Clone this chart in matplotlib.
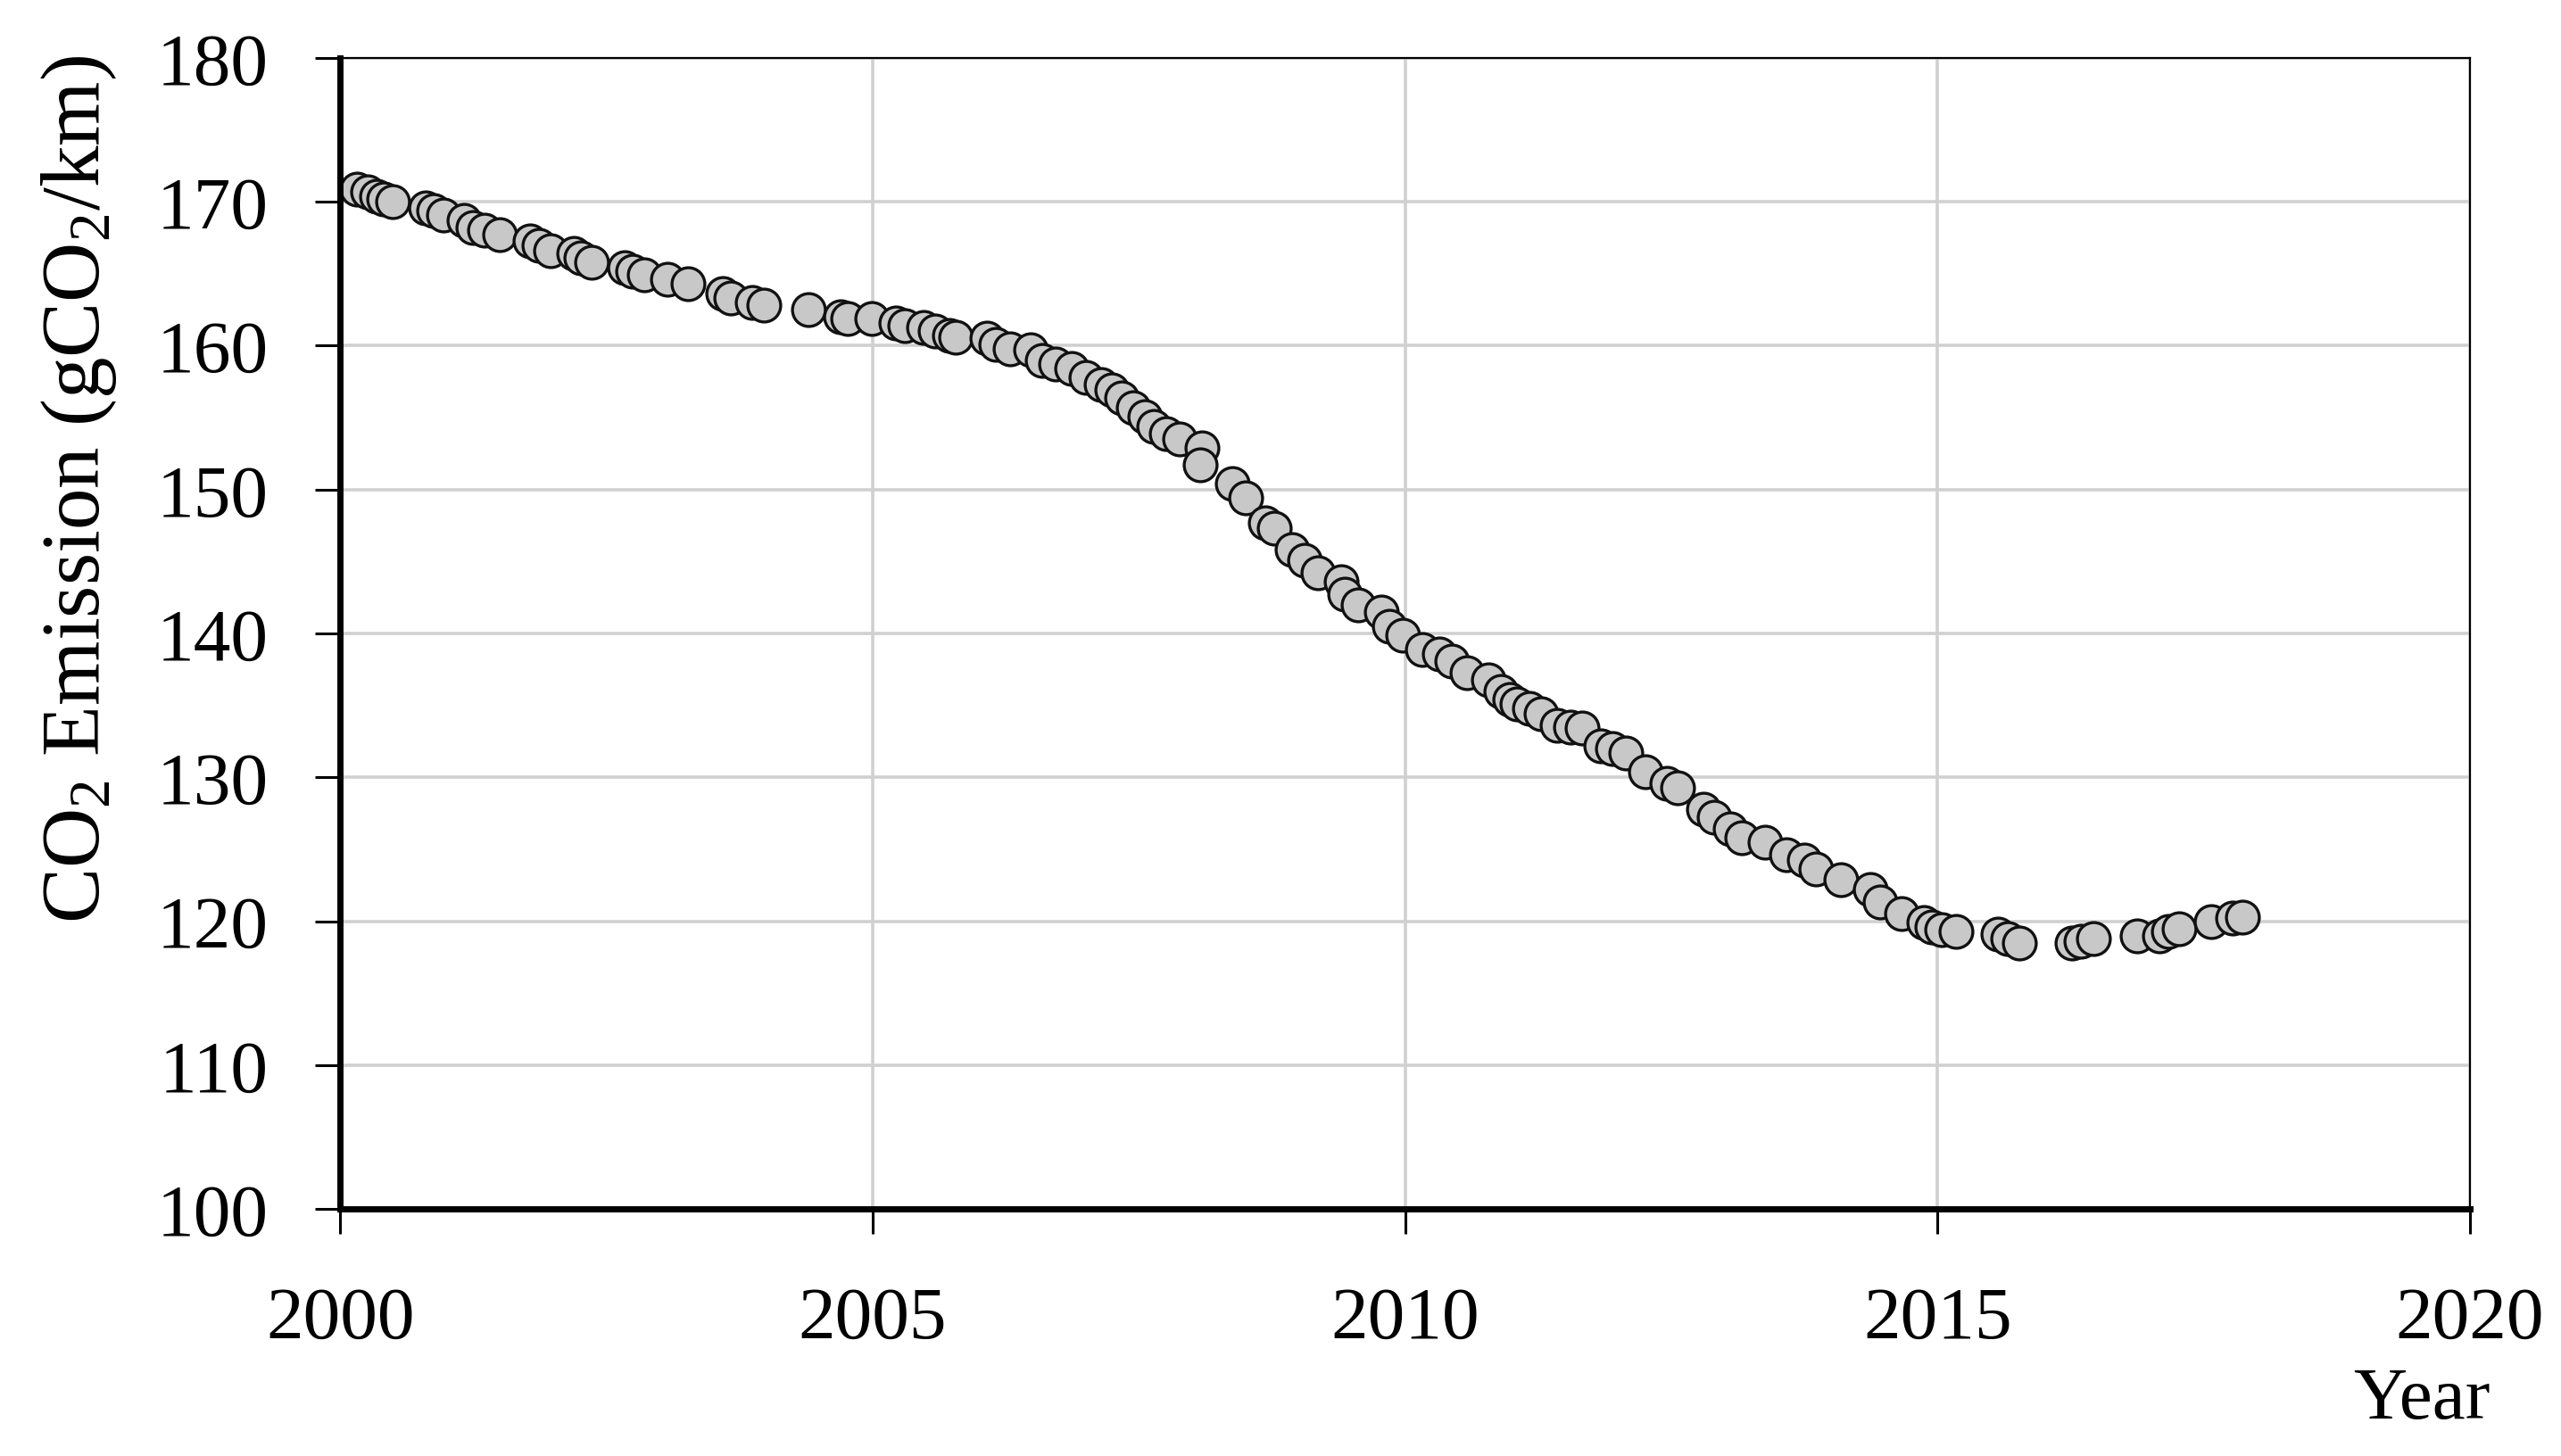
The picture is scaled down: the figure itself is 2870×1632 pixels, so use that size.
import matplotlib
matplotlib.use("Agg")
import matplotlib.pyplot as plt

plt.rcParams['font.family'] = ['Liberation Serif', 'DejaVu Serif']
plt.rcParams['mathtext.fontset'] = 'custom'
plt.rcParams['mathtext.rm'] = 'Liberation Serif'
plt.rcParams['mathtext.it'] = 'Liberation Serif:italic'

year = [
    2000.16, 2000.26, 2000.34, 2000.41, 2000.49, 2000.80, 2000.88, 2000.97,
    2001.16, 2001.25, 2001.36, 2001.50, 2001.78, 2001.87, 2001.98, 2002.19,
    2002.26, 2002.36, 2002.67, 2002.75, 2002.86, 2003.07, 2003.27, 2003.59,
    2003.67, 2003.87, 2003.98, 2004.40, 2004.70, 2004.77, 2004.99, 2005.22,
    2005.30, 2005.48, 2005.59, 2005.72, 2005.78, 2006.07, 2006.16, 2006.29,
    2006.48, 2006.59, 2006.72, 2006.87, 2007.00, 2007.15, 2007.25, 2007.34,
    2007.45, 2007.56, 2007.64, 2007.76, 2007.88, 2008.09, 2008.08, 2008.38,
    2008.50, 2008.69, 2008.77, 2008.94, 2009.06, 2009.18, 2009.40, 2009.43,
    2009.56, 2009.78, 2009.85, 2009.98, 2010.16, 2010.32, 2010.44, 2010.58,
    2010.78, 2010.90, 2010.98, 2011.05, 2011.17, 2011.28, 2011.43, 2011.55,
    2011.66, 2011.84, 2011.95, 2012.07, 2012.26, 2012.46, 2012.56, 2012.80,
    2012.90, 2013.05, 2013.16, 2013.38, 2013.58, 2013.75, 2013.86, 2014.09,
    2014.37, 2014.46, 2014.66, 2014.87, 2014.95, 2015.04, 2015.17, 2015.57,
    2015.66, 2015.77, 2016.26, 2016.35, 2016.46, 2016.87, 2017.08, 2017.17,
    2017.27, 2017.57, 2017.77, 2017.86,
]
emission = [
    170.9, 170.7, 170.4, 170.2, 170.0, 169.6, 169.4, 169.1,
    168.7, 168.2, 168.0, 167.7, 167.3, 167.0, 166.6, 166.4,
    166.1, 165.8, 165.4, 165.2, 164.9, 164.6, 164.3, 163.6,
    163.3, 163.0, 162.8, 162.5, 162.0, 161.9, 161.9, 161.6,
    161.4, 161.3, 161.0, 160.7, 160.6, 160.5, 160.1, 159.8,
    159.7, 159.0, 158.7, 158.4, 157.8, 157.3, 156.9, 156.4,
    155.7, 155.1, 154.4, 153.9, 153.5, 152.9, 151.7, 150.4,
    149.4, 147.7, 147.3, 145.8, 145.1, 144.2, 143.6, 142.7,
    142.0, 141.5, 140.5, 139.9, 138.9, 138.6, 138.1, 137.3,
    136.8, 136.0, 135.4, 135.1, 134.8, 134.4, 133.6, 133.5,
    133.4, 132.2, 132.0, 131.7, 130.4, 129.6, 129.3, 127.8,
    127.2, 126.4, 125.8, 125.5, 124.6, 124.25, 123.6, 122.9,
    122.2, 121.35, 120.5, 119.9, 119.6, 119.4, 119.3, 119.1,
    118.8, 118.5, 118.5, 118.6, 118.8, 119.0, 119.0, 119.3,
    119.5, 120.0, 120.2, 120.3,
]
x_ticks = [2000, 2005, 2010, 2015, 2020]
y_ticks = [100, 110, 120, 130, 140, 150, 160, 170, 180]

fig = plt.figure(figsize=(28.70, 16.33), dpi=100)
ax = fig.add_axes([0.1328, 0.1696, 0.9645 - 0.1328, 0.9596 - 0.1696])

ax.plot(year, emission, linestyle='none', marker='o', markersize=26.5,
        markerfacecolor='#c8c8c8', markeredgecolor='#111111',
        markeredgewidth=2.4, zorder=3)

ax.set_xlim(2000, 2020)
ax.set_ylim(100, 180)
ax.set_xticks(x_ticks)
ax.set_yticks(y_ticks)
ax.grid(True, color='#d0d0d0', linewidth=2.6, zorder=0)
ax.set_axisbelow(True)

for side in ['top', 'right']:
    ax.spines[side].set_linewidth(1.6)
for side in ['left', 'bottom']:
    ax.spines[side].set_linewidth(5.0)
    ax.spines[side].set_zorder(4)

ax.tick_params(axis='both', direction='out', length=20, width=2.2,
               labelsize=60, colors='black')
ax.tick_params(axis='y', pad=38)
ax.tick_params(axis='x', pad=42)

ax.set_ylabel('CO$_\\mathrm{2}$ Emission (gCO$_\\mathrm{2}$/km)', fontsize=67,
              va='center')
ax.yaxis.set_label_coords(-0.1225, 0.626)
fig.text(0.9725, 0.0386, 'Year', fontsize=60, ha='right', va='center')

fig.savefig('out.png', dpi=100)
